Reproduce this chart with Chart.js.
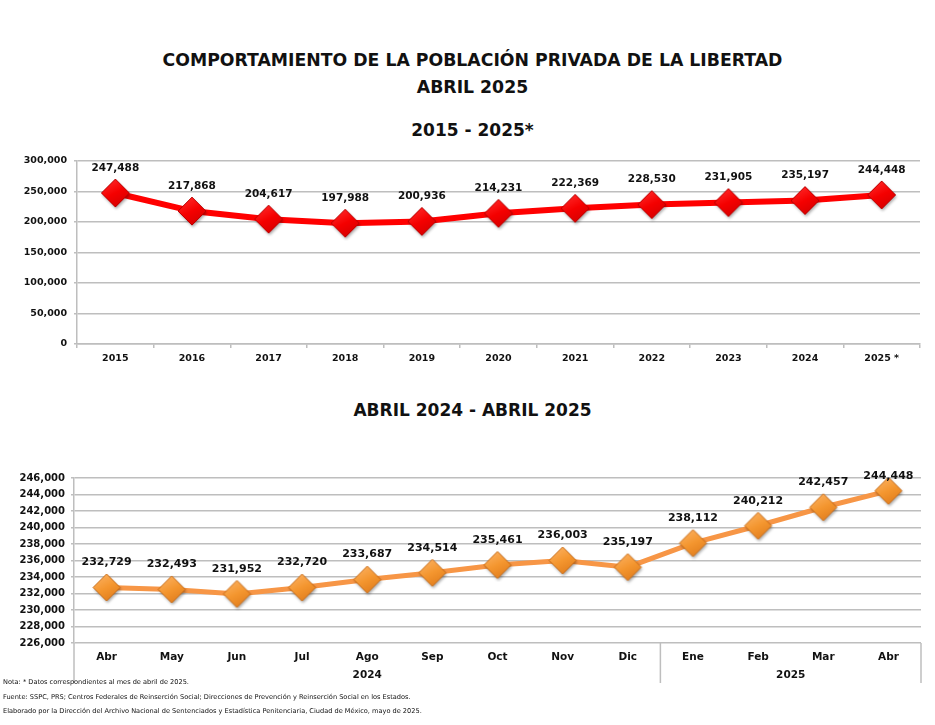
<!DOCTYPE html>
<html lang="es">
<head>
<meta charset="utf-8">
<script src="https://cdn.jsdelivr.net/npm/chart.js@4/dist/chart.umd.min.js"></script>
<style>
  html, body { margin: 0; padding: 0; background: #fff; }
  #page { position: relative; width: 935px; height: 725px; overflow: hidden; background: #fff; font-family: "DejaVu Sans", sans-serif; }
  .t { position: absolute; left: 0; width: 945px; text-align: center; font-weight: bold; color: #111; height: 24px; line-height: 24px; white-space: nowrap; }
  canvas { position: absolute; left: 0; }
  .f { position: absolute; left: 3px; font-size: 6.6px; color: #111; white-space: nowrap; height: 10px; line-height: 10px; }
</style>
</head>
<body>
<div id="page">
  <div class="t" style="top:48px;font-size:17.3px;">COMPORTAMIENTO DE LA POBLACIÓN PRIVADA DE LA LIBERTAD</div>
  <div class="t" style="top:75px;font-size:17.3px;">ABRIL 2025</div>
  <div class="t" style="top:118px;font-size:17px;">2015 - 2025*</div>
  <canvas id="c1" width="935" height="235" style="top:140px;"></canvas>
  <div class="t" style="top:398px;font-size:17px;">ABRIL 2024 - ABRIL 2025</div>
  <canvas id="c2" width="935" height="230" style="top:460px;"></canvas>
  <div class="f" style="top:677px;">Nota: * Datos correspondientes al mes de abril de 2025.</div>
  <div class="f" style="top:692px;">Fuente: SSPC, PRS; Centros Federales de Reinserción Social; Direcciones de Prevención y Reinserción Social en los Estados.</div>
  <div class="f" style="top:706px;">Elaborado por la Dirección del Archivo Nacional de Sentenciados y Estadística Penitenciaria, Ciudad de México, mayo de 2025.</div>
</div>
<script>
// ---------------- DATA ----------------
const years = ['2015','2016','2017','2018','2019','2020','2021','2022','2023','2024','2025 *'];
const annualValues = [247488, 217868, 204617, 197988, 200936, 214231, 222369, 228530, 231905, 235197, 244448];
const annualTickValues = [0, 50000, 100000, 150000, 200000, 250000, 300000];

const months = ['Abr','May','Jun','Jul','Ago','Sep','Oct','Nov','Dic','Ene','Feb','Mar','Abr'];
const monthYears = ['2024','2024','2024','2024','2024','2024','2024','2024','2024','2025','2025','2025','2025'];
const monthlyValues = [232729, 232493, 231952, 232720, 233687, 234514, 235461, 236003, 235197, 238112, 240212, 242457, 244448];
const monthlyTickValues = [226000, 228000, 230000, 232000, 234000, 236000, 238000, 240000, 242000, 244000, 246000];

// ---------------- STYLE HELPERS ----------------
const FONT = '"DejaVu Sans", sans-serif';
const GRID = '#BEBEBE';
const fmt = v => Number(v).toLocaleString('en-US');

function makeDiamond(half, light, mid, dark, edge) {
  const size = Math.ceil(half * 2 + 8);
  const c = document.createElement('canvas');
  c.width = size; c.height = size;
  const g = c.getContext('2d');
  const cx = size / 2, cy = size / 2;
  g.beginPath();
  g.moveTo(cx, cy - half); g.lineTo(cx + half, cy); g.lineTo(cx, cy + half); g.lineTo(cx - half, cy); g.closePath();
  g.shadowColor = 'rgba(0,0,0,0.35)'; g.shadowBlur = 3; g.shadowOffsetX = 1; g.shadowOffsetY = 2;
  const lg = g.createLinearGradient(cx - half * 0.5, cy - half, cx + half * 0.5, cy + half);
  lg.addColorStop(0, light); lg.addColorStop(0.5, mid); lg.addColorStop(1, dark);
  g.fillStyle = lg; g.fill();
  g.shadowColor = 'transparent';
  g.lineWidth = 1; g.strokeStyle = edge; g.stroke();
  return c;
}
const redDiamond = makeDiamond(14, '#FF2A2A', '#F50000', '#D40000', '#B80000');
const orangeDiamond = makeDiamond(13.5, '#FBB060', '#F4962F', '#E07C1C', '#C96B15');

const valueLabels = {
  id: 'valueLabels',
  afterDatasetsDraw(chart, args, opts) {
    const meta = chart.getDatasetMeta(0);
    const ds = chart.data.datasets[0].data;
    const ctx = chart.ctx;
    ctx.save();
    ctx.font = opts.font;
    ctx.fillStyle = '#111';
    ctx.textAlign = 'center';
    ctx.textBaseline = 'middle';
    meta.data.forEach((pt, i) => {
      const y = Math.max(pt.y - opts.offset, chart.chartArea.top - opts.overTop);
      ctx.fillText(fmt(ds[i]), pt.x, y);
    });
    ctx.restore();
  }
};

const yearGroups = {
  id: 'yearGroups',
  afterDraw(chart, args, opts) {
    if (!opts.groups) return;
    const xs = chart.scales.x;
    const ca = chart.chartArea;
    const ctx = chart.ctx;
    const groups = opts.groups;
    const bounds = [xs.left];
    const spans = [];
    for (let i = 1; i <= groups.length; i++) {
      if (i === groups.length || groups[i] !== groups[i - 1]) {
        const end = i - 1;
        const right = (i === groups.length) ? xs.right : (xs.getPixelForValue(end) + xs.getPixelForValue(i)) / 2;
        spans.push({ label: groups[end], l: bounds[bounds.length - 1], r: right });
        bounds.push(right);
      }
    }
    ctx.save();
    ctx.strokeStyle = opts.lineColor;
    ctx.lineWidth = 1.5;
    bounds.forEach(b => {
      ctx.beginPath();
      ctx.moveTo(b, ca.bottom);
      ctx.lineTo(b, ca.bottom + opts.lineLength);
      ctx.stroke();
    });
    ctx.font = opts.font;
    ctx.fillStyle = '#111';
    ctx.textAlign = 'center';
    ctx.textBaseline = 'middle';
    spans.forEach(s => ctx.fillText(s.label, (s.l + s.r) / 2, ca.bottom + opts.labelOffset));
    ctx.restore();
  }
};

Chart.register(valueLabels, yearGroups);

// ---------------- CHART 1 ----------------
new Chart(document.getElementById('c1'), {
  type: 'line',
  data: {
    labels: years,
    datasets: [
      { data: annualValues, showLine: false, pointStyle: redDiamond, pointRadius: 14, pointHoverRadius: 14 },
      { data: annualValues, borderColor: '#FF0000', borderWidth: 6, pointRadius: 0, pointHoverRadius: 0, tension: 0, fill: false }
    ]
  },
  options: {
    responsive: false, animation: false,
    layout: { padding: { left: 0, right: 13, top: 21, bottom: 0 } },
    plugins: {
      legend: { display: false }, tooltip: { enabled: false },
      valueLabels: { font: 'bold 10.5px ' + FONT, offset: 25, overTop: 20 },
      yearGroups: { groups: null }
    },
    scales: {
      x: {
        offset: true,
        grid: { offset: true, drawOnChartArea: false, drawTicks: true, tickLength: 4, tickColor: GRID, lineWidth: 1.5 },
        border: { display: true, color: GRID, width: 1.5 },
        ticks: { color: '#111', font: { family: FONT, size: 9.5, weight: 'bold' }, padding: 5, maxRotation: 0, autoSkip: false },
        afterFit: s => { s.height = 31; }
      },
      y: {
        min: 0, max: 300000,
        afterBuildTicks: s => { s.ticks = annualTickValues.map(v => ({ value: v })); },
        grid: { color: GRID, lineWidth: 1.5, tickLength: 3, tickColor: GRID },
        border: { display: true, color: GRID, width: 1.5 },
        ticks: { color: '#111', font: { family: FONT, size: 9.5, weight: 'bold' }, padding: 7, callback: v => fmt(v) },
        afterFit: s => { s.width = 77; }
      }
    }
  }
});

// ---------------- CHART 2 ----------------
new Chart(document.getElementById('c2'), {
  type: 'line',
  data: {
    labels: months,
    datasets: [
      { data: monthlyValues, showLine: false, pointStyle: orangeDiamond, pointRadius: 13, pointHoverRadius: 13 },
      { data: monthlyValues, borderColor: '#F79646', borderWidth: 5, pointRadius: 0, pointHoverRadius: 0, tension: 0, fill: false }
    ]
  },
  options: {
    responsive: false, animation: false,
    layout: { padding: { left: 0, right: 13, top: 18, bottom: 0 } },
    plugins: {
      legend: { display: false }, tooltip: { enabled: false },
      valueLabels: { font: 'bold 11px ' + FONT, offset: 25, overTop: 2 },
      yearGroups: { groups: monthYears, lineColor: GRID, lineLength: 40, labelOffset: 32, font: 'bold 10.5px ' + FONT }
    },
    scales: {
      x: {
        offset: true,
        grid: { display: false, drawTicks: false, tickLength: 0 },
        border: { display: false },
        ticks: { color: '#111', font: { family: FONT, size: 10.5, weight: 'bold' }, padding: 8, maxRotation: 0, autoSkip: false },
        afterFit: s => { s.height = 47; }
      },
      y: {
        min: 226000, max: 246000,
        afterBuildTicks: s => { s.ticks = monthlyTickValues.map(v => ({ value: v })); },
        grid: { color: GRID, lineWidth: 1.5, tickLength: 3, tickColor: GRID },
        border: { display: true, color: GRID, width: 1.5 },
        ticks: { color: '#111', font: { family: FONT, size: 10, weight: 'bold' }, padding: 6, callback: v => fmt(v) },
        afterFit: s => { s.width = 74; }
      }
    }
  }
});
</script>
</body>
</html>
